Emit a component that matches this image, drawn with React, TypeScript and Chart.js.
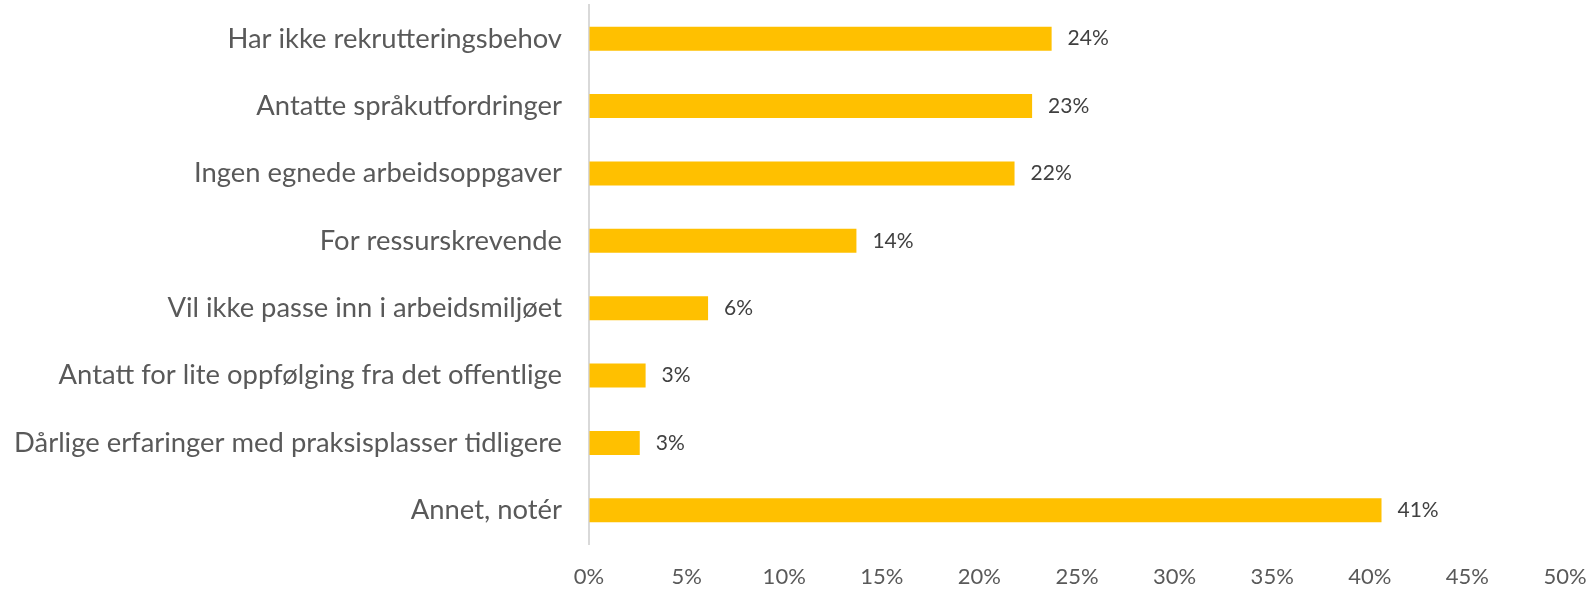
import React, { useEffect, useRef } from "react";
import { Chart, registerables } from "chart.js";

Chart.register(...registerables);

const categories = [
  "Har ikke rekrutteringsbehov",
  "Antatte språkutfordringer",
  "Ingen egnede arbeidsoppgaver",
  "For ressurskrevende",
  "Vil ikke passe inn i arbeidsmiljøet",
  "Antatt for lite oppfølging fra det offentlige",
  "Dårlige erfaringer med praksisplasser tidligere",
  "Annet, notér",
];
const values = [23.7, 22.7, 21.8, 13.7, 6.1, 2.9, 2.6, 40.6];
const valueLabels = ["24%", "23%", "22%", "14%", "6%", "3%", "3%", "41%"];
const xTicksMin = 0;
const xTicksMax = 50;
const xTickStep = 5;

const FONT = "Lato, 'Open Sans', sans-serif";

const dataLabelPlugin = {
  id: "dataLabels",
  afterDatasetsDraw(chart: any) {
    const ctx = chart.ctx;
    const meta = chart.getDatasetMeta(0);
    ctx.save();
    ctx.font = `21px ${FONT}`;
    ctx.fillStyle = "#404040";
    ctx.textAlign = "left";
    ctx.textBaseline = "middle";
    meta.data.forEach((bar: any, i: number) => {
      ctx.fillText(valueLabels[i], bar.x + 16, bar.y);
    });
    ctx.restore();
  },
};

export default function App() {
  const ref = useRef<HTMLCanvasElement>(null);
  useEffect(() => {
    if (!ref.current) return;
    const chart = new Chart(ref.current, {
      type: "bar",
      data: {
        labels: categories,
        datasets: [
          {
            data: values,
            backgroundColor: "#FFC000",
            borderWidth: 0,
            categoryPercentage: 1,
            barPercentage: 0.357,
          },
        ],
      },
      options: {
        indexAxis: "y",
        animation: false,
        responsive: false,
        maintainAspectRatio: false,
        layout: { padding: { top: 5, right: 30, left: 0, bottom: 0 } },
        plugins: {
          legend: { display: false },
          tooltip: { enabled: false },
        },
        scales: {
          x: {
            min: xTicksMin,
            max: xTicksMax,
            grid: {
              display: true,
              drawOnChartArea: false,
              drawTicks: true,
              tickLength: 20,
              color: "rgba(0,0,0,0)",
            },
            border: { display: false },
            ticks: {
              stepSize: xTickStep,
              padding: 0,
              color: "#595959",
              font: { family: FONT, size: 22 },
              callback: (v: any) => `${v}%`,
            },
            afterFit: (s: any) => {
              s.height = 45;
            },
          },
          y: {
            grid: {
              display: true,
              drawOnChartArea: false,
              drawTicks: true,
              tickLength: 27,
              color: "rgba(0,0,0,0)",
            },
            border: { display: true, color: "#d9d9d9", width: 2 },
            ticks: {
              padding: 0,
              color: "#595959",
              font: { family: FONT, size: 27.4, lineHeight: 0.35 },
            },
            afterFit: (s: any) => {
              s.width = 589;
            },
          },
        },
      },
      plugins: [dataLabelPlugin],
    });
    return () => chart.destroy();
  }, []);
  return (
    <div style={{ position: "absolute", left: 0, top: 0, width: 1595, height: 589 }}>
      <canvas ref={ref} width={1595} height={589} />
    </div>
  );
}
